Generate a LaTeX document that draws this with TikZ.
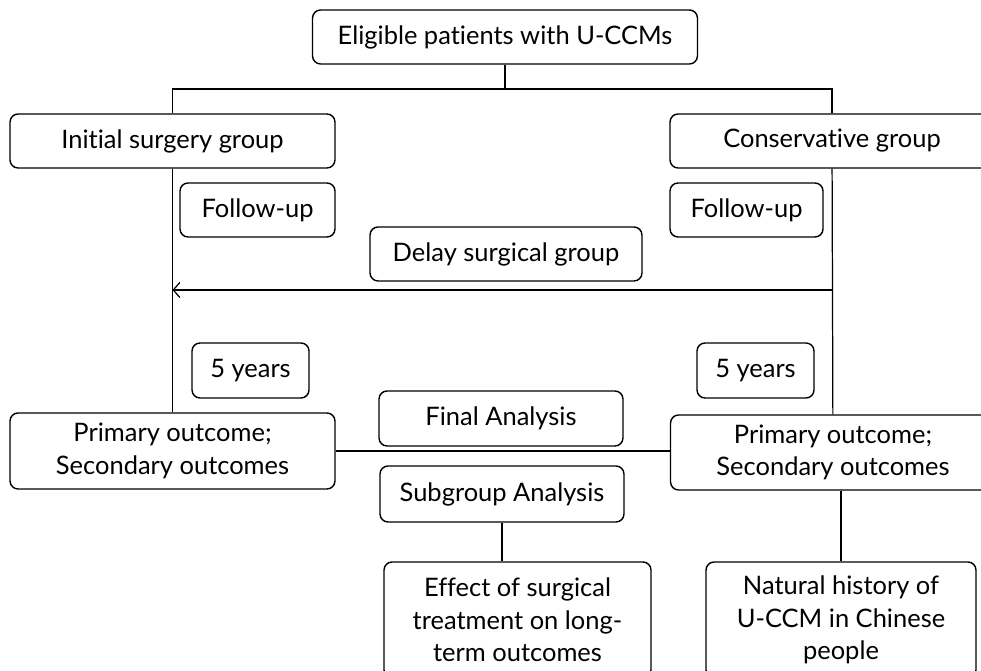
\documentclass[tikz,border=0pt]{standalone}
\usepackage{fontspec}
\setmainfont[Ligatures={NoCommon}]{Lato}
\usetikzlibrary{arrows.meta}

\begin{document}
\begin{tikzpicture}[x=0.02cm, y=-0.02cm,
    box/.style={draw, rounded corners=0.16cm, align=center, inner sep=2pt,
        line width=0.8pt, font=\fontsize{14.5}{18.5}\selectfont},
    link/.style={line width=0.7pt},
    back/.style={-{Straight Barb[length=1.3mm,width=3mm]}},
    ]
    \useasboundingbox (0,0) rectangle (981,671);
    \clip (0,0) rectangle (981,671);
    \node[box, minimum width=7.7cm, minimum height=1.08cm] (top) at (505,37) {Eligible patients with U-CCMs};
    \node[box, minimum width=6.5cm, minimum height=1.08cm] (init) at (172.5,141) {Initial surgery group};
    \node[box, minimum width=6.48cm, minimum height=1.08cm] (cons) at (832,141) {Conservative group};
    \node[box, minimum width=3.1cm, minimum height=1.08cm] (followL) at (257.5,210) {Follow-up};
    \node[box, minimum width=3.06cm, minimum height=1.08cm] (followR) at (746.5,210) {Follow-up};
    \node[box, minimum width=5.44cm, minimum height=1.08cm] (delay) at (506,254) {Delay surgical group};
    \node[box, minimum width=2.34cm, minimum height=1.1cm] (yearsL) at (250.5,370.5) {5 years};
    \node[box, minimum width=2.34cm, minimum height=1.1cm] (yearsR) at (755.5,370.5) {5 years};
    \node[box, minimum width=4.88cm, minimum height=1.1cm] (final) at (501,418.5) {Final Analysis};
    \node[box, minimum width=6.5cm, minimum height=1.52cm] (primL) at (172.5,451) {Primary outcome;\\Secondary outcomes};
    \node[box, minimum width=6.5cm, minimum height=1.5cm] (primR) at (833,452.5) {Primary outcome;\\Secondary outcomes};
    \node[box, minimum width=4.88cm, minimum height=1.12cm] (sub) at (502,494) {Subgroup Analysis};
    \node[box, minimum width=5.34cm, minimum height=2.32cm] (effect) at (517.5,620) {Effect of surgical\\treatment on long-\\term outcomes};
    \node[box, minimum width=5.4cm, minimum height=2.32cm] (nat) at (841,620) {Natural history of\\U-CCM in Chinese\\people};
    % split below the top box
    \coordinate (split) at (505,89);
    \draw[link] (top) -- (split);
    \draw[link] (init.north) |- (split) -| (cons.north);
    % the two arms
    \draw[link] (init) -- (primL);
    \draw[link] (cons) -- (primR);
    \coordinate (delayfrom) at (832,290);
    \draw[link,back] (delayfrom) -- (delayfrom -| init.south);
    \draw[link] (primL.east) -- (primL.east -| primR.west);
    \draw[link] (sub.south) -- (sub.south |- effect.north);
    \draw[link] (nat.north |- primR.south) -- (nat.north);
\end{tikzpicture}
\end{document}
